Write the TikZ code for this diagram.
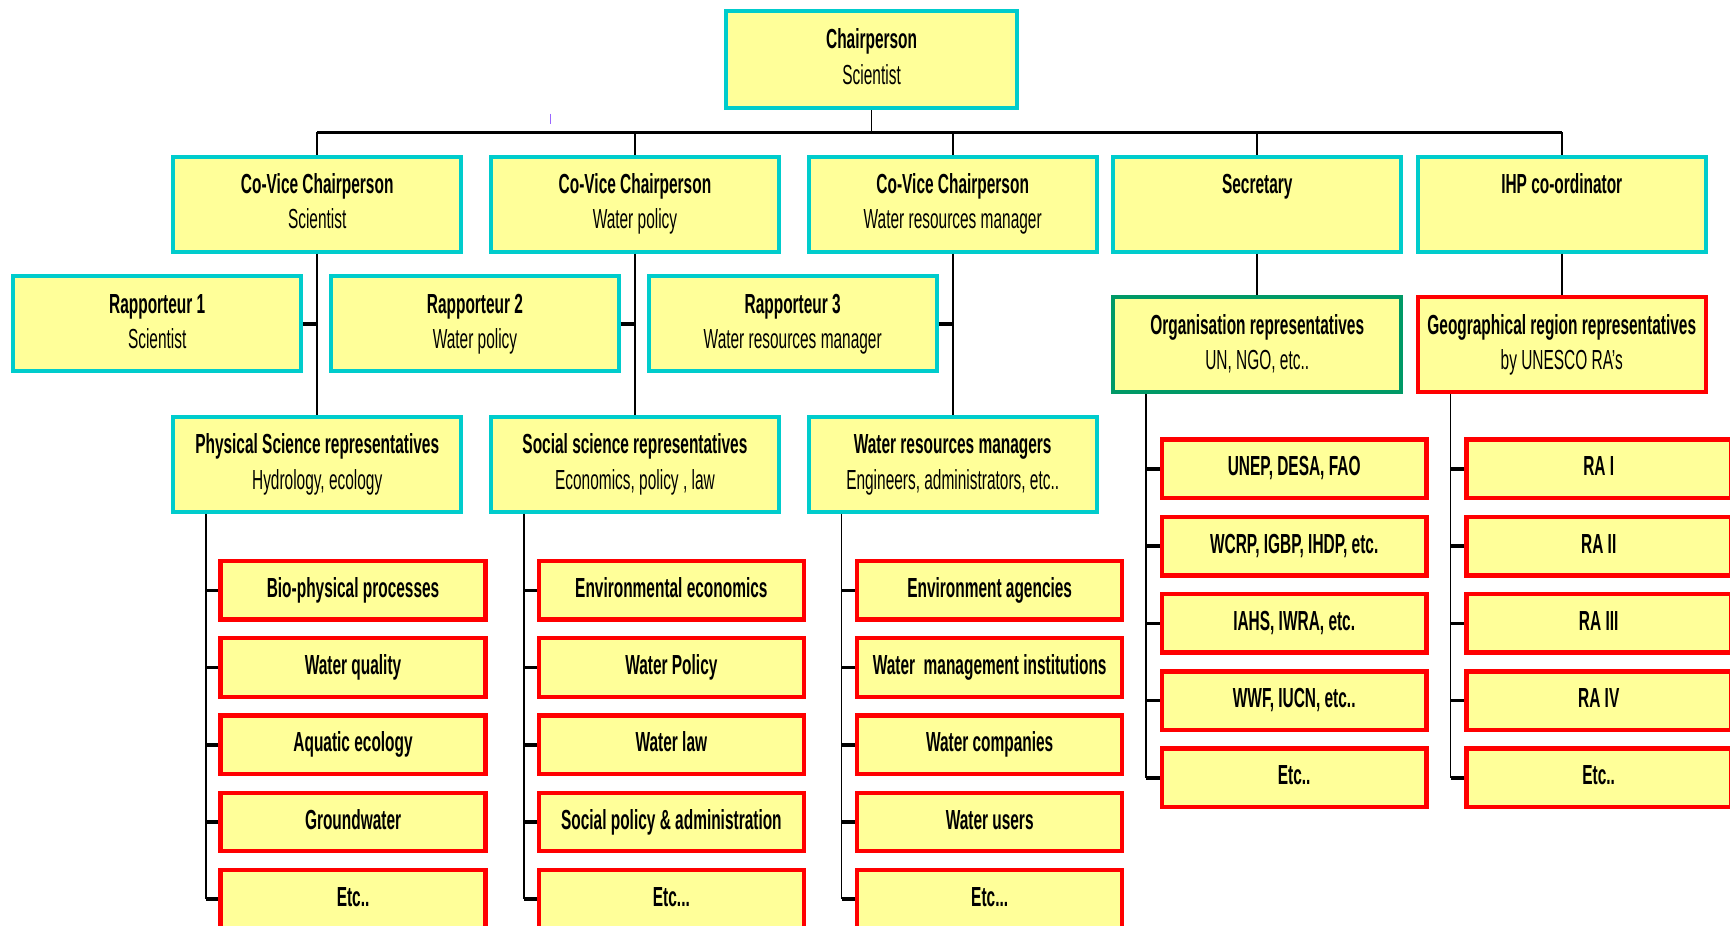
\documentclass[tikz,border=0pt]{standalone}
\usepackage{fontspec}
\setmainfont{Liberation Sans}[FakeStretch=0.56]
\usepackage{tikz}
\definecolor{boxfill}{RGB}{255,255,153}
\definecolor{boxcyan}{RGB}{0,204,204}
\definecolor{boxred}{RGB}{255,0,0}
\definecolor{boxgreen}{RGB}{0,153,102}
\definecolor{tickpurple}{RGB}{153,102,255}
\newcommand{\postlabel}[2]{\textbf{#1}\strut\\#2\strut}
\tikzstyle{post}=[draw=boxcyan, fill=boxfill, line width=1.8pt, minimum width=130.5pt, minimum height=43pt, inner sep=0pt, align=center, font=\fontsize{12.5}{16}\selectfont]
\tikzstyle{rep}=[post, draw=boxred]
\tikzstyle{orgrep}=[post, draw=boxgreen]
\tikzstyle{leaf}=[post, draw=boxred, line width=2pt, minimum width=120pt, minimum height=26.5pt, font=\fontsize{12.5}{16}\selectfont\bfseries]
\tikzset{link/.style={line width=0.75pt}, busline/.style={line width=1.6pt}, stub/.style={line width=1.6pt}}

\begin{document}
\begin{tikzpicture}[x=0.5pt,y=-0.5pt]
		\clip (0,0) rectangle (1568,839);
		\node[post, minimum width=132pt, minimum height=44pt] (chair) at (790,54) {\postlabel{Chairperson}{Scientist}};
		\node[post] (cvcsci) at (287.5,185) {\postlabel{Co-Vice Chairperson}{Scientist}};
		\node[post] (cvcpol) at (575.5,185) {\postlabel{Co-Vice Chairperson}{Water policy}};
		\node[post] (cvcwrm) at (863.5,185) {\postlabel{Co-Vice Chairperson}{Water resources manager}};
		\node[post] (secr) at (1139.5,185) {\postlabel{Secretary}{}};
		\node[post] (ihp) at (1415.5,185) {\postlabel{IHP co-ordinator}{}};
		\node[post] (rapa) at (142.5,293.5) {\postlabel{Rapporteur 1}{Scientist}};
		\node[post] (rapb) at (430.5,293.5) {\postlabel{Rapporteur 2}{Water policy}};
		\node[post] (rapc) at (718.5,293.5) {\postlabel{Rapporteur 3}{Water resources manager}};
		\node[post] (physrep) at (287.5,421) {\postlabel{Physical Science representatives}{Hydrology, ecology}};
		\node[post] (socrep) at (575.5,421) {\postlabel{Social science representatives}{Economics, policy , law}};
		\node[post] (wrmrep) at (863.5,421) {\postlabel{Water resources managers}{Engineers, administrators, etc..}};
		\node[orgrep] (orgrep) at (1139.5,312.5) {\postlabel{Organisation representatives}{UN, NGO, etc..}};
		\node[rep] (georep) at (1415.5,312.5) {\postlabel{Geographical region representatives}{by UNESCO RA's}};

		\foreach \txt [count=\i] in {{Bio-physical processes}, {Water quality}, {Aquatic ecology}, {Groundwater}, {Etc..}}
			\node[leaf] (phys\i) at (320,465+70*\i) {\txt\strut};
		\foreach \txt [count=\i] in {{Environmental economics}, {Water Policy}, {Water law}, {Social policy \& administration}, {Etc..{}.}}
			\node[leaf] (soc\i) at (608.5,465+70*\i) {\txt\strut};
		\foreach \txt [count=\i] in {{Environment agencies}, {Water~ management institutions}, {Water companies}, {Water users}, {Etc..{}.}}
			\node[leaf] (wrm\i) at (897,465+70*\i) {\txt\strut};
		\foreach \txt [count=\i] in {{UNEP, DESA, FAO}, {WCRP, IGBP, IHDP, etc.}, {IAHS, IWRA, etc.}, {WWF, IUCN, etc..}, {Etc..}}
			\node[leaf] (org\i) at (1173,355+70*\i) {\txt\strut};
		\foreach \txt [count=\i] in {{RA I}, {RA II}, {RA III}, {RA IV}, {Etc..}}
			\node[leaf] (geo\i) at (1449,355+70*\i) {\txt\strut};

		\coordinate (bus) at (790,120);
		\draw[link] (chair) -- (bus);
		\draw[busline] (cvcsci.north |- bus) -- (ihp.north |- bus);
		\foreach \n in {cvcsci,cvcpol,cvcwrm,secr,ihp}
			\draw[link] (\n.north |- bus) -- (\n.north);
		\draw[link] (cvcsci) -- (physrep);
		\draw[link] (cvcpol) -- (socrep);
		\draw[link] (cvcwrm) -- (wrmrep);
		\draw[stub] (rapa.east) -- (rapa.east -| cvcsci.south);
		\draw[stub] (rapb.east) -- (rapb.east -| cvcpol.south);
		\draw[stub] (rapc.east) -- (rapc.east -| cvcwrm.south);
		\draw[link] (secr) -- (orgrep);
		\draw[link] (ihp) -- (georep);

		\foreach \up/\kid in {physrep/phys, socrep/soc, wrmrep/wrm, orgrep/org, georep/geo} {
			\coordinate (\kid-bar) at ([xshift=15.75pt]\up.south west);
			\draw[link] (\kid-bar) -- (\kid-bar |- \kid5.west);
			\foreach \i in {1,...,5}
				\draw[stub] (\kid-bar |- \kid\i.west) -- (\kid\i.west);
		}

		\draw[tickpurple, line width=0.6pt] (499,103) -- (499,112);
		\end{tikzpicture}
\end{document}
